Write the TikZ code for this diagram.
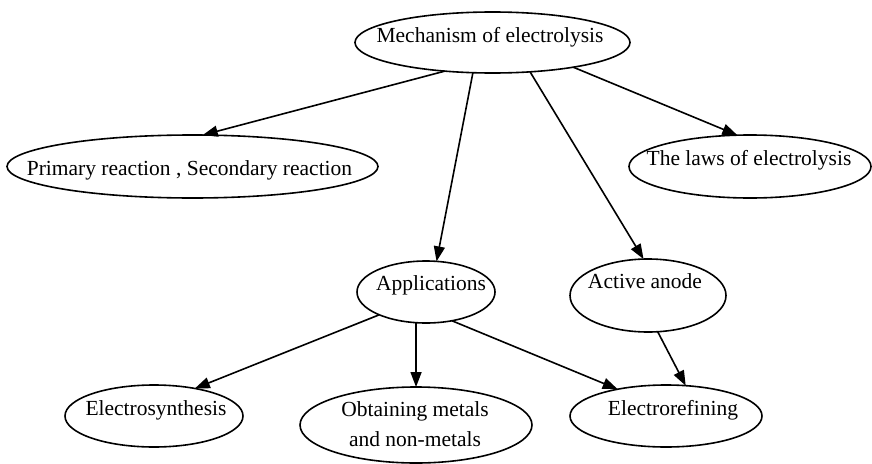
\documentclass[tikz,border=0pt]{standalone}
\usepackage{fontspec}
\setmainfont{Liberation Serif}
\usetikzlibrary{shapes.geometric,arrows.meta}
\begin{document}
\begin{tikzpicture}[x=1pt,y=-1pt,
  ell/.style={ellipse,draw,line width=1.6pt,inner sep=0pt,outer sep=0pt},
  lbl/.style={anchor=base,inner sep=0pt,font=\fontsize{21.5}{25}\selectfont},
  arr/.style={line width=1.6pt,-{Triangle[length=15pt,width=11pt]}}]
\useasboundingbox (0,0) rectangle (872,463);
% ellipses
\node[ell,minimum width=275pt,minimum height=61pt] (mech) at (492.5,42.5) {};
\node[ell,minimum width=371pt,minimum height=63pt] (prim) at (192.5,166.5) {};
\node[ell,minimum width=242pt,minimum height=63pt] (laws) at (750,166.5) {};
\node[ell,minimum width=138pt,minimum height=62pt] (apps) at (426,292) {};
\node[ell,minimum width=156pt,minimum height=73pt] (act) at (648,295.5) {};
\node[ell,minimum width=178pt,minimum height=62pt] (syn) at (154,416) {};
\node[ell,minimum width=232pt,minimum height=76pt] (obt) at (416,425) {};
\node[ell,minimum width=192pt,minimum height=62pt] (ref) at (666,416) {};
% texts
\node[lbl] (tmech) at (490,42) {Mechanism of electrolysis};
\node[lbl] (tprim) at (189.5,175) {Primary reaction , Secondary reaction};
\node[lbl] (tlaws) at (749,165) {The laws of electrolysis};
\node[lbl] (tapps) at (431,290) {Applications};
\node[lbl] (tact) at (645,288) {Active anode};
\node[lbl] (tsyn) at (156,415) {Electrosynthesis};
\node[lbl,align=center,font=\fontsize{21.5}{30}\selectfont] (tobt) at (415,446) {Obtaining metals\\and non-metals};
\node[lbl] (tref) at (673,415) {Electrorefining};
% connectors
\draw[arr] (mech.211.5) -- (prim.72);
\draw[arr] (mech.237.6) -- (apps.71);
\draw[arr] (mech.322.5) -- (act.97.8);
\draw[arr] (mech.343) -- (laws.112);
\draw[arr] (apps.206) -- (syn.34.3);
\draw[arr] (apps.252) -- (apps.252 |- obt.north);
\draw[arr] (apps.312) -- (ref.151);
\draw[arr] (act.285) -- (ref.57);
\end{tikzpicture}
\end{document}
